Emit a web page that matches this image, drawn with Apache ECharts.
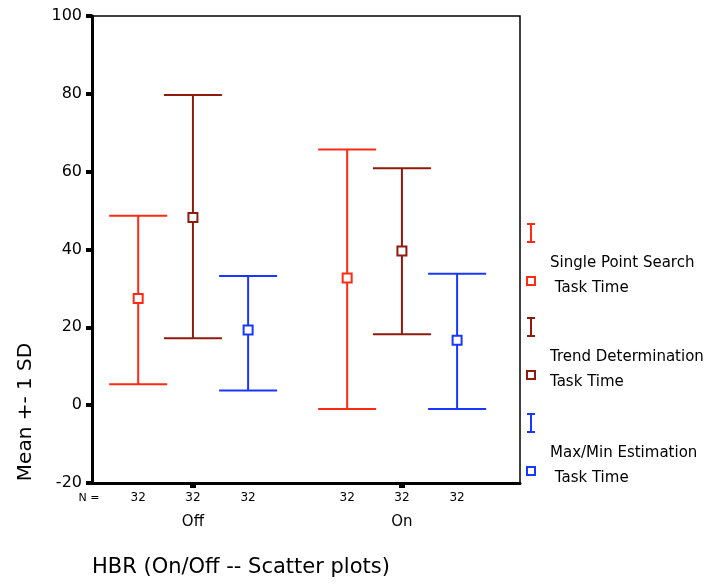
<!DOCTYPE html>
<html><head><meta charset="utf-8">
<script src="https://cdn.jsdelivr.net/npm/echarts@6/dist/echarts.min.js"></script>
<style>html,body{margin:0;padding:0;background:#fff}#c{width:719px;height:584px}</style>
</head><body><div id="c"></div>
<script>
// ---- data ----
const categories = ['Off', 'On'];
const seriesNames = ['Single Point Search Task Time', 'Trend Determination Task Time', 'Max/Min Estimation Task Time'];
const legendLine1 = ['Single Point Search', 'Trend Determination', 'Max/Min Estimation'];
const legendLine2 = [' Task Time', 'Task Time', ' Task Time'];
const spsMean = [27.4, 32.7];
const spsLow = [5.4, -1.0];
const spsHigh = [48.7, 65.7];
const tdMean = [48.2, 39.6];
const tdLow = [17.2, 18.2];
const tdHigh = [79.7, 60.9];
const mmMean = [19.3, 16.7];
const mmLow = [3.8, -1.0];
const mmHigh = [33.2, 33.8];
const nCounts = [[32, 32, 32], [32, 32, 32]];
const yTicks = [-20, 0, 20, 40, 60, 80, 100];
const xTitle = 'HBR (On/Off -- Scatter plots)';
const yTitle = 'Mean +- 1 SD';

// ---- styling ----
const colors = ['#ff2a14', '#8e1b0c', '#1838ff'];
const offsets = [-0.262, 0, 0.264];
const FONT = 'DejaVu Sans';
const groups = [[spsLow, spsHigh, spsMean], [tdLow, tdHigh, tdMean], [mmLow, mmHigh, mmMean]];

function errSeries(s) {
  const [lo, hi, mean] = groups[s];
  return {
    type: 'custom', name: seriesNames[s],
    data: categories.map((c, i) => [i + 1, lo[i], hi[i], mean[i]]),
    encode: { x: 0, y: [1, 2, 3] },
    clip: false,
    renderItem(params, api) {
      const x = api.value(0) + offsets[s];
      const pl = api.coord([x, api.value(1)]);
      const ph = api.coord([x, api.value(2)]);
      const pm = api.coord([x, api.value(3)]);
      const st = { stroke: colors[s], lineWidth: 2 };
      const hw = 29;
      return {
        type: 'group', children: [
          { type: 'line', shape: { x1: pl[0], y1: pl[1], x2: ph[0], y2: ph[1] }, style: st },
          { type: 'line', shape: { x1: ph[0] - hw, y1: ph[1], x2: ph[0] + hw, y2: ph[1] }, style: st },
          { type: 'line', shape: { x1: pl[0] - hw, y1: pl[1], x2: pl[0] + hw, y2: pl[1] }, style: st },
          { type: 'rect', shape: { x: pm[0] - 4.5, y: pm[1] - 4.5, width: 9, height: 9 }, style: { fill: '#fff', stroke: colors[s], lineWidth: 2 } }
        ]
      };
    }
  };
}

const nData = [];
categories.forEach((c, i) => nCounts[i].forEach((n, s) => nData.push([i + 1, s, n])));

const nSeries = {
  type: 'custom', name: 'N', data: nData, clip: false, silent: true,
  encode: { x: 0 },
  renderItem(params, api) {
    const x = api.value(0) + offsets[api.value(1)];
    const p = api.coord([x, -20]);
    return { type: 'text', x: p[0], y: p[1] + 15, style: { text: String(api.value(2)), fill: '#000', font: '12px ' + FONT, align: 'center', verticalAlign: 'middle' } };
  }
};

// legend graphics
const legendEls = [];
const legTops = [233, 327, 423];
colors.forEach((col, s) => {
  const y0 = legTops[s];
  const gx = 531;
  legendEls.push({ type: 'line', shape: { x1: gx, y1: y0 - 9, x2: gx, y2: y0 + 9 }, style: { stroke: col, lineWidth: 2 } });
  legendEls.push({ type: 'line', shape: { x1: gx - 4, y1: y0 - 9, x2: gx + 4, y2: y0 - 9 }, style: { stroke: col, lineWidth: 2 } });
  legendEls.push({ type: 'line', shape: { x1: gx - 4, y1: y0 + 9, x2: gx + 4, y2: y0 + 9 }, style: { stroke: col, lineWidth: 2 } });
  legendEls.push({ type: 'rect', shape: { x: gx - 4, y: y0 + 44, width: 8, height: 8 }, style: { fill: '#fff', stroke: col, lineWidth: 2 } });
  legendEls.push({ type: 'text', x: 550, y: y0 + 30, style: { text: legendLine1[s], fill: '#000', font: '15px ' + FONT, verticalAlign: 'middle' } });
  legendEls.push({ type: 'text', x: 550, y: y0 + 55, style: { text: legendLine2[s], fill: '#000', font: '15px ' + FONT, verticalAlign: 'middle' } });
});

const option = {
  backgroundColor: '#fff',
  animation: false,
  grid: { left: 92, right: 199, top: 16, bottom: 101, show: true, borderColor: '#000', borderWidth: 1.5, backgroundColor: 'transparent' },
  xAxis: {
    type: 'value', min: 0.517, max: 2.565,
    splitLine: { show: false },
    axisLine: { show: true, onZero: false, lineStyle: { color: '#000', width: 3 } },
    axisTick: { show: true, customValues: [1, 2], length: 5, lineStyle: { color: '#000', width: 6 } },
    axisLabel: { customValues: [1, 2], formatter: v => categories[Math.round(v) - 1] || '', margin: 32, color: '#000', fontSize: 15, fontFamily: FONT }
  },
  yAxis: {
    type: 'value', min: yTicks[0], max: yTicks[yTicks.length - 1], interval: 20,
    splitLine: { show: false },
    axisLine: { show: true, onZero: false, lineStyle: { color: '#000', width: 3 } },
    axisTick: { show: true, length: 6, lineStyle: { color: '#000', width: 4 } },
    axisLabel: { margin: 10, color: '#000', fontSize: 16, fontFamily: FONT }
  },
  series: [errSeries(0), errSeries(1), errSeries(2), nSeries],
  graphic: [
    { type: 'text', x: 89, y: 498, style: { text: 'N =', fill: '#000', font: '11px ' + FONT, align: 'center', verticalAlign: 'middle' } },
    { type: 'text', x: 92, y: 568, style: { text: xTitle, fill: '#000', font: '21px ' + FONT, verticalAlign: 'middle' } },
    { type: 'text', x: 26, y: 412, rotation: Math.PI / 2, style: { text: yTitle, fill: '#000', font: '20px ' + FONT, align: 'center', verticalAlign: 'middle' } },
    ...legendEls
  ]
};
echarts.init(document.getElementById('c')).setOption(option);
</script>
</body></html>
